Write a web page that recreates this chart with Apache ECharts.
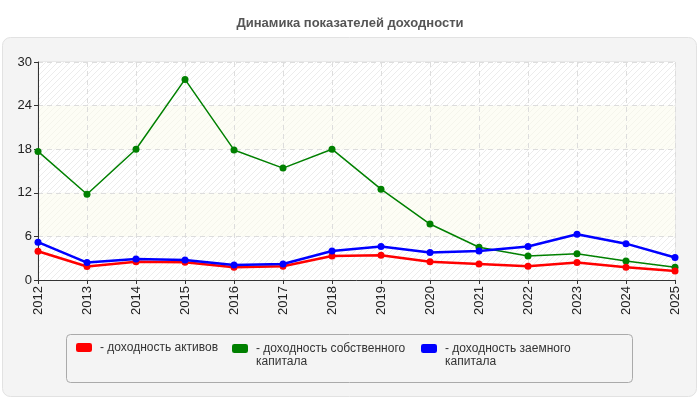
<!DOCTYPE html>
<html>
<head>
<meta charset="utf-8">
<script src="https://cdn.jsdelivr.net/npm/echarts@6/dist/echarts.min.js"></script>
<style>
html,body{margin:0;padding:0;background:#fff;}
#chart{width:700px;height:400px;}
</style>
</head>
<body>
<div id="chart"></div>
<script>
var years = ['2012','2013','2014','2015','2016','2017','2018','2019','2020','2021','2022','2023','2024','2025'];
var assets = [3.95, 1.85, 2.5, 2.45, 1.75, 1.9, 3.3, 3.4, 2.5, 2.2, 1.9, 2.4, 1.75, 1.25];
var equity = [17.7, 11.8, 18.0, 27.6, 17.9, 15.4, 18.0, 12.5, 7.7, 4.5, 3.3, 3.6, 2.6, 1.75];
var borrowed = [5.2, 2.4, 2.9, 2.75, 2.05, 2.2, 4.0, 4.6, 3.8, 4.0, 4.6, 6.3, 5.0, 3.1];
var names = ['- доходность активов', '- доходность собственного\nкапитала', '- доходность заемного\nкапитала'];
var colors = ['#ff0000', '#008000', '#0000ff'];

function hatch(bg, line) {
    var c = document.createElement('canvas');
    c.width = 6; c.height = 6;
    var ctx = c.getContext('2d');
    ctx.fillStyle = bg;
    ctx.fillRect(0, 0, 6, 6);
    ctx.strokeStyle = line;
    ctx.lineWidth = 1;
    ctx.beginPath();
    ctx.moveTo(0, 6); ctx.lineTo(6, 0);
    ctx.moveTo(-3, 3); ctx.lineTo(3, -3);
    ctx.moveTo(3, 9); ctx.lineTo(9, 3);
    ctx.stroke();
    return {image: c, repeat: 'repeat'};
}

var chart = echarts.init(document.getElementById('chart'));
var font = '"Liberation Sans", Arial, sans-serif';

// two-line items: a blank leading line keeps the icon level with the first text line
function legendFor(i, left, top, twoLines) {
    return {
        data: [names[i]],
        left: left,
        top: top,
        padding: 0,
        icon: 'roundRect',
        itemWidth: 16,
        itemHeight: 9,
        itemGap: 4,
        formatter: function (n) { return twoLines ? '\n' + n : n; },
        textStyle: {color: '#333', fontSize: 12, fontFamily: font, lineHeight: 13, padding: [0, 0, 0, 3]}
    };
}

var option = {
    backgroundColor: '#fff',
    animation: false,
    color: colors,
    title: {
        text: 'Динамика показателей доходности',
        left: 'center',
        top: 12,
        textStyle: {color: '#555', fontSize: 13, fontWeight: 'bold', fontFamily: font}
    },
    graphic: [
        {type: 'rect', z: -10, shape: {x: 2.5, y: 37.5, width: 694, height: 359, r: 8},
         style: {fill: '#f4f4f4', stroke: '#e2e2e2', lineWidth: 1}},
        {type: 'rect', z: -9, shape: {x: 66.5, y: 334.5, width: 566, height: 48, r: 4},
         style: {fill: '#f4f4f4', stroke: '#aaaaaa', lineWidth: 1}}
    ],
    legend: [legendFor(0, 76, 341, false), legendFor(1, 232, 329, true), legendFor(2, 421, 329, true)],
    grid: {left: 38, right: 25, top: 62, bottom: 120, show: true, borderColor: '#dddddd', borderWidth: 1},
    xAxis: {
        type: 'category',
        data: years,
        boundaryGap: false,
        axisLine: {lineStyle: {color: '#333', width: 1}},
        axisTick: {show: true, length: 4, lineStyle: {color: '#333'}},
        axisLabel: {rotate: 90, color: '#222', fontSize: 13, fontFamily: font, margin: 6},
        splitLine: {show: true, lineStyle: {color: '#dddddd', type: [5, 4]}}
    },
    yAxis: {
        type: 'value',
        min: 0,
        max: 30,
        interval: 6,
        axisLine: {show: true, lineStyle: {color: '#333', width: 1}},
        axisTick: {show: true, length: 4, lineStyle: {color: '#333'}},
        axisLabel: {color: '#222', fontSize: 13, fontFamily: font, margin: 6},
        splitLine: {show: true, lineStyle: {color: '#dddddd', type: [5, 4]}},
        splitArea: {show: true, areaStyle: {color: [hatch('#ffffff', '#ececec'), hatch('#fdfdf5', '#f5f5ec')]}}
    },
    series: [
        {name: names[0], type: 'line', data: assets, symbol: 'circle', symbolSize: 7,
         lineStyle: {width: 2.5}, z: 3},
        {name: names[1], type: 'line', data: equity, symbol: 'circle', symbolSize: 7,
         lineStyle: {width: 1.5}, z: 2},
        {name: names[2], type: 'line', data: borrowed, symbol: 'circle', symbolSize: 7,
         lineStyle: {width: 2.5}, z: 4}
    ]
};
chart.setOption(option);
</script>
</body>
</html>
